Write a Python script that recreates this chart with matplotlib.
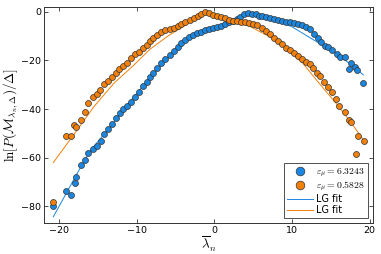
import numpy as np
import matplotlib
matplotlib.use("Agg")
import matplotlib.pyplot as plt

plt.rcParams['mathtext.fontset'] = 'cm'
plt.rcParams['font.family'] = ['DejaVu Sans']

# eps_mu = 6.3243 (blue)
x_blue = [-20.77, -19.18, -18.53, -18.02, -17.85, -17.25, -16.73, -16.27, -15.66, -15.2,
          -14.67, -14.2, -13.73, -13.2, -12.7, -12.2, -11.76, -11.25, -10.73, -10.25,
          -9.7, -9.23, -8.7, -8.24, -7.9, -7.39, -6.83, -6.31, -5.76, -5.24,
          -4.73, -4.25, -3.74, -3.23, -2.76, -2.24, -1.73, -1.21, -0.7, -0.18,
          0.34, 0.85, 1.37, 1.88, 2.4, 2.91, 3.34, 3.77, 4.29, 4.8,
          5.32, 5.74, 6.09, 6.61, 7.12, 7.64, 8.15, 8.67, 9.18, 9.7,
          10.21, 10.73, 11.24, 11.76, 12.27, 12.79, 13.3, 13.78, 14.24, 14.68,
          15.19, 15.78, 16.22, 16.81, 17.32, 17.58, 18.18, 18.44, 19.21]
y_blue = [-79.9, -73.7, -75.2, -70.5, -68.1, -63.2, -61.0, -58.2, -56.6, -55.2,
          -53.2, -50.4, -48.2, -46.3, -43.8, -41.8, -40.1, -38.6, -37.3, -35.1,
          -32.9, -30.7, -29.0, -26.8, -25.3, -23.3, -21.2, -19.4, -17.8, -16.0,
          -14.4, -12.9, -11.6, -10.4, -9.6, -8.8, -8.2, -7.7, -7.2, -6.8,
          -6.3, -5.8, -5.2, -4.4, -3.7, -2.9, -2.1, -1.1, -0.7, -0.8,
          -1.1, -1.6, -1.9, -2.3, -2.7, -3.1, -3.5, -3.8, -4.1, -4.2,
          -4.5, -5.2, -5.6, -6.2, -7.2, -9.3, -10.9, -12.6, -14.0, -14.4,
          -15.9, -17.4, -18.5, -18.6, -23.7, -21.2, -22.7, -24.1, -29.2]

# eps_mu = 0.5828 (orange)
x_orange = [-20.77, -19.18, -18.53, -18.1, -17.85, -17.25, -16.73, -16.35, -15.7, -15.2,
            -14.76, -14.25, -13.73, -13.2, -12.74, -12.3, -11.76, -11.25, -10.73, -10.2,
            -9.7, -9.23, -8.7, -8.24, -7.9, -7.39, -6.83, -6.31, -5.76, -5.24,
            -4.73, -4.25, -3.74, -3.18, -2.67, -2.11, -1.68, -1.25, -0.74, -0.18,
            0.34, 0.85, 1.37, 1.88, 2.4, 2.91, 3.43, 3.94, 4.46, 4.97,
            5.49, 6.09, 6.61, 7.12, 7.64, 8.15, 8.67, 9.18, 9.7, 10.21,
            10.73, 11.24, 11.76, 12.27, 12.7, 13.21, 13.65, 14.08, 14.6, 15.1,
            15.62, 16.13, 16.81, 17.42, 17.64, 18.27, 18.5, 19.27]
y_orange = [-78.1, -51.0, -51.0, -46.6, -47.3, -44.5, -41.4, -37.7, -35.1, -33.7,
            -32.2, -29.9, -28.5, -27.0, -25.1, -23.7, -22.3, -21.0, -19.2, -17.5,
            -16.4, -14.8, -13.7, -12.0, -10.7, -9.6, -8.5, -7.7, -7.1, -6.6,
            -5.9, -5.1, -4.4, -3.4, -2.7, -1.8, -0.9, -0.3, -0.7, -1.4,
            -1.8, -2.3, -2.7, -3.3, -3.7, -3.7, -4.1, -4.4, -4.6, -4.9,
            -5.5, -6.8, -7.9, -9.3, -10.9, -12.1, -13.4, -14.8, -15.6, -17.0,
            -18.1, -19.4, -20.6, -21.6, -23.0, -25.2, -26.6, -28.8, -31.0, -33.1,
            -35.9, -38.6, -41.1, -44.5, -45.2, -58.5, -51.0, -53.0]

# LG fit curves
x_fit_blue = [-20.77, -17.68, -15.96, -13.4, -10.37, -8.0, -6.0, -4.0, -2.0, 0.0,
              2.0, 3.5, 4.4, 6.0, 8.0, 10.0, 11.4, 13.0, 15.7, 17.5, 19.21]
y_fit_blue = [-84.3, -66.4, -56.9, -47.3, -34.9, -26.0, -19.0, -12.8, -8.6, -6.6,
              -4.3, -1.9, -0.8, -2.0, -3.8, -6.2, -8.9, -12.0, -17.1, -21.5, -26.0]
x_fit_orange = [-20.77, -18.1, -15.5, -12.95, -10.37, -8.33, -6.0, -3.6, -2.0, -1.4,
                -0.5, 2.0, 4.55, 7.12, 9.0, 11.4, 13.5, 15.7, 17.5, 19.27]
y_fit_orange = [-62.0, -50.4, -38.9, -29.4, -21.9, -15.5, -10.0, -5.3, -2.2, -0.6,
                -1.2, -3.5, -6.0, -10.3, -14.5, -21.2, -29.4, -37.7, -45.0, -53.0]

c_blue = '#1a86e0'
c_orange = '#f2800a'

fig = plt.figure(figsize=(3.81, 2.54), dpi=100)
ax = fig.add_axes([0.1155, 0.123, 0.8635, 0.8495])

ax.plot(x_blue, y_blue, 'o', color=c_blue, mec='#333333', mew=0.5, ms=4.3,
        label=r'$\varepsilon_\mu = 6.3243$', zorder=3)
ax.plot(x_orange, y_orange, 'o', color=c_orange, mec='#333333', mew=0.5, ms=4.3,
        label=r'$\varepsilon_\mu = 0.5828$', zorder=3)
ax.plot(x_fit_blue, y_fit_blue, color=c_blue, lw=0.7, label='LG fit', zorder=2)
ax.plot(x_fit_orange, y_fit_orange, color=c_orange, lw=0.7, label='LG fit', zorder=2)

ax.set_xlim(-21.97, 20.45)
ax.set_ylim(-86.75, 1.93)
ax.set_xticks([-20, -10, 0, 10, 20])
ax.set_yticks([-80, -60, -40, -20, 0])
ax.tick_params(direction='in', length=3, width=0.6, labelsize=6.8, pad=2,
               top=True, right=True, color='#333333')
for s in ax.spines.values():
    s.set_linewidth(0.7)
    s.set_color('#333333')

ax.set_xlabel(r'$\overline{\lambda}_n$', fontsize=9.5, labelpad=0)
ax.set_ylabel(r'$\ln[P(\mathcal{M}_{\lambda_n,\Delta})/\Delta]$', fontsize=9.5, labelpad=1)

leg = ax.legend(loc='lower right', fontsize=7, frameon=True, fancybox=False,
                edgecolor='#333333', framealpha=1, borderpad=0.3, labelspacing=0.1,
                handlelength=2.6, handletextpad=0.4, borderaxespad=0.5,
                markerscale=1.45)
leg.get_frame().set_linewidth(0.6)

fig.savefig('out.png', dpi=100)
